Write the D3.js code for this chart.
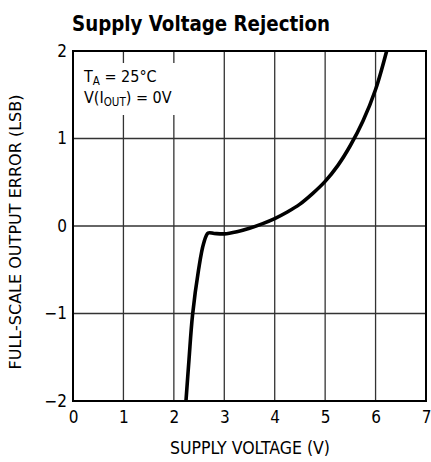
<!DOCTYPE html>
<html>
<head>
<meta charset="utf-8">
<script src="https://cdn.jsdelivr.net/npm/d3@7"></script>
<style>
  html, body { margin: 0; padding: 0; background: #fff; }
  svg text { font-family: "DejaVu Sans Condensed", "Liberation Sans Narrow", "Arial Narrow", sans-serif; font-stretch: condensed; fill: #000; }
</style>
</head>
<body>
<div id="chart"></div>
<script>
// Supply voltage rejection curve.
var supplyV = [2.24, 2.30, 2.37, 2.49, 2.59, 2.68, 2.80, 3.00, 3.25, 3.50, 3.75, 4.00, 4.25, 4.50, 4.75, 5.00, 5.25, 5.50, 5.75, 6.00, 6.22];
var errLSB  = [-2.0, -1.53, -1.02, -0.50, -0.20, -0.08, -0.085, -0.09, -0.065, -0.025, 0.025, 0.085, 0.16, 0.25, 0.37, 0.51, 0.69, 0.92, 1.20, 1.56, 2.00];
var xTicks = [0, 1, 2, 3, 4, 5, 6, 7];
var yTicks = [-2, -1, 0, 1, 2];

var W = 431, H = 462;
var m = { left: 73, right: 5, top: 51, bottom: 61 };

var svg = d3.select('#chart').append('svg').attr('width', W).attr('height', H);

var x = d3.scaleLinear().domain([0, 7]).range([m.left, W - m.right]);
var y = d3.scaleLinear().domain([-2, 2]).range([H - m.bottom, m.top]);

// title
svg.append('text')
  .attr('x', 72).attr('y', 31)
  .attr('textLength', 258).attr('lengthAdjust', 'spacingAndGlyphs')
  .style('font-size', '22px').style('font-weight', 'bold')
  .text('Supply Voltage Rejection');

// grid
var grid = svg.append('g');
grid.selectAll('line.v').data(xTicks.slice(1, -1)).enter().append('line')
  .attr('x1', function (d) { return x(d); }).attr('x2', function (d) { return x(d); })
  .attr('y1', y(2)).attr('y2', y(-2))
  .attr('stroke', '#333').attr('stroke-width', 1.3);
grid.selectAll('line.h').data(yTicks.slice(1, -1)).enter().append('line')
  .attr('x1', x(0)).attr('x2', x(7))
  .attr('y1', function (d) { return y(d); }).attr('y2', function (d) { return y(d); })
  .attr('stroke', '#333').attr('stroke-width', 1.3);

// white patch behind the conditions note (grid is broken there)
svg.append('rect')
  .attr('x', x(0) + 4).attr('y', y(2) + 12).attr('width', 122).attr('height', 52)
  .attr('fill', '#fff');

// frame
svg.append('rect')
  .attr('x', x(0)).attr('y', y(2))
  .attr('width', x(7) - x(0)).attr('height', y(-2) - y(2))
  .attr('fill', 'none').attr('stroke', '#000').attr('stroke-width', 2);

// curve
var pts = supplyV.map(function (v, i) { return [v, errLSB[i]]; });
svg.append('path')
  .datum(pts)
  .attr('fill', 'none').attr('stroke', '#000').attr('stroke-width', 3.6)
  .attr('stroke-linejoin', 'round')
  .attr('d', d3.line().x(function (d) { return x(d[0]); }).y(function (d) { return y(d[1]); })
    .curve(d3.curveCatmullRom.alpha(0.5)));

// axes (labels only, frame is drawn above)
var xAxis = svg.append('g').attr('transform', 'translate(0,' + y(-2) + ')')
  .call(d3.axisBottom(x).tickValues(xTicks).tickSize(0).tickPadding(10).tickFormat(d3.format('d')));
xAxis.select('.domain').remove();
xAxis.selectAll('text').style('font-size', '17px');

var yAxis = svg.append('g').attr('transform', 'translate(' + x(0) + ',0)')
  .call(d3.axisLeft(y).tickValues(yTicks).tickSize(0).tickPadding(6)
    .tickFormat(function (d) { return d < 0 ? '\u2212' + (-d) : d; }));
yAxis.select('.domain').remove();
yAxis.selectAll('text').style('font-size', '17px');

// axis titles
svg.append('text')
  .attr('x', 250).attr('y', 454)
  .attr('text-anchor', 'middle').style('font-size', '17px')
  .attr('textLength', 160).attr('lengthAdjust', 'spacingAndGlyphs')
  .text('SUPPLY VOLTAGE (V)');
svg.append('text')
  .attr('transform', 'translate(21,' + (y(0) + 6) + ') rotate(-90)')
  .attr('text-anchor', 'middle').style('font-size', '16.5px')
  .attr('textLength', 275).attr('lengthAdjust', 'spacingAndGlyphs')
  .text('FULL-SCALE OUTPUT ERROR (LSB)');

// conditions note
var note = svg.append('g').style('font-size', '16px');
var t1 = note.append('text').attr('x', 84).attr('y', 82);
t1.append('tspan').text('T');
t1.append('tspan').attr('dy', 3).style('font-size', '11.5px').text('A');
t1.append('tspan').attr('dy', -3).text(' = 25\u00b0C');
var t2 = note.append('text').attr('x', 84).attr('y', 103);
t2.append('tspan').text('V(I');
t2.append('tspan').attr('dy', 3).style('font-size', '11.5px').text('OUT');
t2.append('tspan').attr('dy', -3).text(') = 0V');
</script>
</body>
</html>
